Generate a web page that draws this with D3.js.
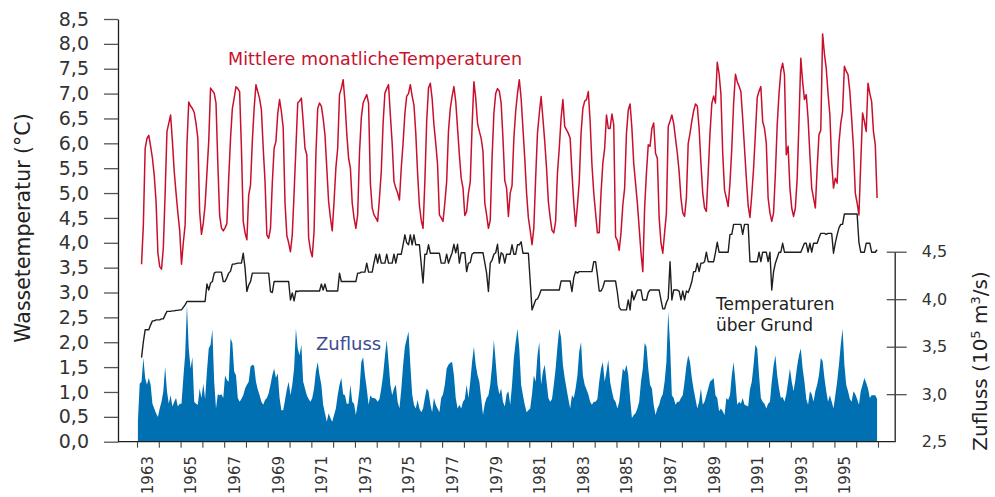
<!DOCTYPE html>
<html><head><meta charset="utf-8">
<script src="https://cdn.jsdelivr.net/npm/d3@7"></script>
<style>
body{margin:0;background:#fff}
svg{display:block}
text{font-family:"DejaVu Sans",Arial,sans-serif}
</style>
</head><body>
<svg id="chart" width="995" height="497"></svg>
<script>
// ---------- DATA ----------
const years = d3.range(1963, 1997);           // 1963 .. 1996
const yearLabels = [1963,1965,1967,1969,1971,1973,1975,1977,1979,1981,1983,1985,1987,1989,1991,1993,1995];
const yearTicks = d3.range(1963, 1998);
const leftTicks = [0,0.5,1,1.5,2,2.5,3,3.5,4,4.5,5,5.5,6,6.5,7,7.5,8,8.5];
const rightTicks = [2.5,3,3.5,4,4.5];

// Mittlere monatliche Temperaturen (°C), Jan..Dec per year
const tempMonthly = [
 [null,null,3.57,4.36,5.9,6.1,6.16,5.94,5.7,5.35,4.83,3.8],
 [3.52,3.47,3.9,5.0,6.24,6.4,6.57,6.04,5.43,5.0,4.6,4.25],
 [3.57,4.0,4.36,5.97,6.83,6.75,6.7,6.62,6.4,6.1,4.63,4.17],
 [4.4,4.76,5.4,6.04,7.11,7.06,7.01,6.81,5.6,4.55,4.3,4.24],
 [4.3,4.39,5.3,6.1,6.7,6.91,7.14,7.1,7.04,5.9,4.43,4.2],
 [4.06,4.96,5.16,6.04,6.7,7.18,7.04,6.9,6.67,5.9,5.23,4.16],
 [4.09,4.29,5.2,5.9,6.04,6.6,6.88,6.64,6.31,4.8,4.15,4.0],
 [3.82,4.16,5.0,5.9,6.81,6.85,6.91,6.44,5.9,5.77,4.1,3.85],
 [3.72,4.23,5.77,6.7,6.81,6.75,6.5,6.17,5.5,4.83,4.5,4.24],
 [4.83,5.5,5.9,6.98,7.1,7.28,6.84,6.2,5.7,5.5,4.8,4.5],
 [4.29,4.56,5.8,6.51,6.81,6.9,6.98,6.81,5.2,4.7,4.56,4.5],
 [4.43,4.9,5.43,6.4,7.01,7.1,7.18,6.57,6.0,5.23,5.1,5.0],
 [4.86,5.5,6.0,6.6,6.95,7.0,7.18,6.95,6.77,6.2,5.4,4.75],
 [4.45,4.29,5.23,6.44,7.11,7.21,6.9,6.37,6.0,5.57,4.56,4.5],
 [4.43,4.8,5.23,6.24,6.7,6.95,7.14,6.84,6.3,5.77,5.3,5.1],
 [4.55,4.63,5.0,5.23,6.34,7.24,6.91,6.4,6.24,6.1,5.84,4.8],
 [4.56,4.29,4.45,5.7,6.6,7.0,7.1,7.05,6.81,6.1,5.25,5.1],
 [4.53,5.0,5.15,6.1,6.64,7.0,7.28,6.9,6.3,5.7,5.0,4.5],
 [4.25,3.96,4.3,5.3,6.2,6.6,6.94,6.5,6.04,5.5,4.83,4.5],
 [4.25,4.2,4.43,5.4,5.9,6.5,6.88,6.34,6.27,6.2,6.1,5.4],
 [4.8,4.33,4.75,5.23,6.2,6.7,6.85,6.88,7.04,6.44,5.57,5.0],
 [4.6,4.2,4.2,5.0,5.6,5.9,6.57,6.3,6.3,6.59,6.37,4.12],
 [4.05,3.85,4.2,4.76,5.1,6.2,6.67,6.79,6.3,5.6,5.2,4.8],
 [4.3,3.8,3.42,4.7,5.4,5.97,5.94,6.3,6.41,5.8,5.7,4.5],
 [4.0,3.79,4.2,4.6,6.34,6.45,6.57,6.4,6.1,5.8,5.43,4.9],
 [4.6,4.53,4.9,6.0,6.2,6.45,6.65,6.79,6.75,6.3,5.6,5.0],
 [4.7,4.63,5.4,6.2,6.8,6.95,6.81,7.63,7.4,7.0,5.8,5.06],
 [4.9,4.73,5.2,5.9,6.8,7.39,7.24,7.15,7.04,6.5,5.9,5.3],
 [4.75,4.51,4.96,5.5,6.2,6.92,7.05,7.14,6.44,6.3,6.0,4.9],
 [4.6,4.43,4.6,5.4,6.37,7.0,7.45,7.61,7.38,5.77,5.94,5.1],
 [4.7,4.53,4.7,5.3,6.44,7.71,7.24,6.88,6.98,6.5,5.77,5.1],
 [4.9,4.7,5.5,6.17,6.27,8.2,7.8,7.51,7.0,6.57,5.6,5.1],
 [5.3,5.2,6.0,6.4,6.64,7.55,7.45,7.38,7.04,6.5,5.9,5.0],
 [4.8,4.56,5.6,6.61,6.44,6.24,7.21,7.0,6.84,6.24,5.97,4.9]
];

// Temperaturen über Grund (°C)
const groundTemp = [
 [null,null,1.69,2.01,2.25,2.25,2.25,2.35,2.43,2.43,2.45,2.45],
 [2.45,2.47,2.47,2.55,2.62,2.62,2.62,2.63,2.63,2.64,2.64,2.65],
 [2.65,2.7,2.75,2.82,2.82,2.82,2.82,2.82,2.82,2.82,2.82,2.82],
 [2.82,2.82,3.17,3.05,3.19,3.22,3.39,3.41,3.41,3.41,3.41,3.22],
 [3.22,3.3,3.39,3.43,3.57,3.57,3.58,3.59,3.59,3.59,3.79,3.49],
 [3.02,3.15,3.22,3.39,3.39,3.39,3.39,3.39,3.39,3.39,3.39,3.39],
 [3.39,3.02,3.0,3.22,3.22,3.22,3.22,3.22,3.22,3.22,3.22,3.22],
 [2.85,2.99,2.83,3.03,3.02,3.03,3.03,3.03,3.03,3.03,3.03,3.03],
 [3.03,3.03,3.03,3.03,3.03,3.17,3.05,3.17,3.03,3.03,3.03,3.03],
 [3.03,3.03,3.03,3.39,3.22,3.22,3.22,3.22,3.22,3.22,3.22,3.22],
 [3.22,3.39,3.39,3.41,3.41,3.41,3.59,3.41,3.41,3.41,3.6,3.77],
 [3.59,3.77,3.59,3.59,3.59,3.77,3.59,3.59,3.59,3.77,3.59,3.77],
 [3.77,3.77,3.96,4.16,4.0,3.96,4.16,3.96,4.16,3.96,3.96,3.96],
 [3.57,3.19,3.77,3.77,3.96,3.79,3.79,3.79,3.79,3.79,3.79,3.59],
 [3.59,3.59,3.77,3.59,3.7,3.8,3.97,3.8,3.97,3.59,3.8,3.8],
 [3.8,3.42,3.59,3.6,3.77,3.8,3.8,3.8,3.8,3.8,3.8,3.6],
 [3.39,3.02,3.59,3.65,3.77,3.8,3.97,3.59,3.8,3.77,3.59,3.77],
 [3.77,3.77,3.96,3.77,3.77,3.96,3.96,4.02,3.79,3.79,3.79,3.79],
 [3.22,2.65,2.75,2.85,2.87,2.95,3.05,3.05,3.05,3.05,3.05,3.05],
 [3.05,3.05,3.05,3.05,3.05,3.23,3.23,3.23,3.23,3.23,3.23,3.02],
 [3.3,3.42,3.39,3.42,3.42,3.42,3.42,3.42,3.42,3.42,3.42,3.62],
 [3.62,3.35,3.03,3.03,3.1,3.23,3.23,3.23,3.23,3.23,3.23,3.23],
 [3.0,2.7,2.65,2.65,2.65,2.65,2.85,2.65,3.02,2.85,2.95,3.05],
 [3.05,3.05,2.85,2.85,2.85,3.0,3.05,3.05,3.05,3.05,3.05,3.05],
 [2.85,2.67,2.67,2.8,2.88,3.62,2.85,3.05,3.05,3.05,3.03,2.85],
 [3.03,2.85,3.03,3.0,3.1,3.22,3.42,3.42,3.59,3.42,3.59,3.59],
 [3.62,3.81,3.62,3.62,3.62,3.62,3.8,4.01,3.81,3.81,3.81,3.81],
 [3.81,3.81,4.17,4.17,4.37,4.37,4.37,4.37,4.37,4.17,4.37,4.37],
 [4.37,3.62,3.62,3.62,3.62,3.62,3.81,3.62,3.81,3.81,3.81,3.62],
 [3.81,3.05,3.42,3.59,3.7,3.81,3.81,3.99,3.81,3.81,3.81,3.81],
 [3.81,3.81,3.81,3.81,3.81,3.81,3.9,3.99,3.99,3.81,3.99,3.81],
 [3.99,3.99,3.99,4.1,4.19,4.19,4.19,4.17,4.19,4.19,4.19,3.79],
 [4.0,4.16,4.3,4.37,4.37,4.58,4.58,4.58,4.58,4.58,4.58,4.58],
 [4.58,4.01,3.81,3.81,3.81,3.99,3.99,3.99,3.81,3.81,3.81,3.86]
];

// Zufluss (10^5 m³/s)
const inflow = [
 [2.72,3.11,3.13,3.38,3.17,3.1,3.17,3.1,2.9,2.85,2.8,2.76],
 [2.85,2.92,3.03,3.29,3.03,2.9,2.99,2.87,2.92,2.96,2.87,2.9],
 [2.9,3.17,3.41,3.94,3.48,3.27,3.39,2.92,2.9,2.89,3.06,2.96],
 [3.11,2.95,3.24,3.48,3.52,3.68,3.13,2.85,3.0,2.99,3.0,2.96],
 [3.2,3.15,3.13,3.59,3.54,3.24,3.2,2.96,2.92,2.95,2.99,3.06],
 [3.1,3.13,3.29,3.31,3.3,3.13,3.05,2.99,2.92,2.89,2.94,2.96],
 [3.01,3.1,3.2,3.27,3.17,3.22,2.96,2.83,2.83,2.94,3.05,3.13],
 [2.99,3.1,3.27,3.69,3.48,3.41,3.52,3.13,3.06,2.99,2.95,2.92],
 [2.96,3.06,3.24,3.34,3.2,3.1,2.89,2.8,2.71,2.8,2.75,2.71],
 [2.78,2.85,2.99,3.1,3.17,3.0,2.99,2.9,2.9,3.1,2.92,2.9],
 [2.78,2.9,3.05,3.34,3.39,3.2,3.06,2.89,2.99,2.96,2.96,2.95],
 [2.92,2.95,3.06,3.2,3.4,3.57,3.34,3.1,2.99,3.06,3.1,2.92],
 [2.85,3.05,3.3,3.5,3.58,3.66,3.31,3.0,2.89,2.85,2.94,2.85],
 [2.81,2.85,2.96,3.06,3.03,2.9,2.81,2.96,2.89,2.85,2.81,2.96],
 [3.0,3.1,3.27,3.31,3.33,3.34,3.2,2.96,2.85,2.89,2.85,2.92],
 [2.95,3.1,2.96,3.13,3.34,3.5,3.31,3.2,3.13,2.96,2.78,2.9],
 [2.96,2.99,3.1,3.3,3.57,3.34,3.1,3.0,3.06,2.92,2.87,3.0],
 [3.03,2.89,3.1,3.38,3.55,3.69,3.48,3.1,2.99,2.89,2.81,2.83],
 [2.85,3.0,3.2,3.13,3.41,3.55,3.1,3.24,3.31,3.13,2.96,2.92],
 [2.95,3.1,3.27,3.5,3.69,3.6,3.31,3.17,3.06,2.95,2.85,2.99],
 [2.96,3.06,3.2,3.45,3.55,3.2,3.1,3.05,3.0,2.92,2.89,2.92],
 [2.92,2.95,3.13,3.27,3.34,3.13,3.24,3.36,3.13,3.03,2.95,2.92],
 [2.85,2.92,3.1,3.27,3.24,3.31,3.2,2.96,2.75,2.78,2.8,2.85],
 [2.92,3.13,3.27,3.54,3.5,3.27,3.1,3.06,2.89,2.78,2.85,2.89],
 [2.96,3.0,3.13,3.34,3.87,3.52,2.99,2.96,2.89,2.92,2.92,2.96],
 [2.99,3.13,3.3,3.41,3.34,3.17,3.05,2.95,2.85,2.92,3.06,2.89],
 [2.92,2.99,3.06,3.13,3.15,3.17,2.99,2.96,2.82,2.85,2.82,2.78],
 [2.96,2.94,2.99,3.2,3.34,3.13,2.89,2.92,2.9,2.96,2.89,2.88],
 [2.87,3.05,3.13,3.31,3.52,3.48,3.2,2.96,2.92,2.9,2.85,2.9],
 [2.92,3.13,3.3,3.41,3.2,3.06,2.96,2.97,2.92,3.0,3.13,3.27],
 [3.13,3.03,3.15,3.3,3.41,3.48,3.27,3.13,2.95,2.89,3.03,3.0],
 [2.92,3.03,3.1,3.2,3.38,3.35,3.17,3.03,2.92,2.99,2.92,2.85],
 [2.99,3.13,3.31,3.52,3.69,3.31,3.1,3.03,2.95,2.92,3.03,3.0],
 [2.95,2.89,3.03,3.1,3.17,3.12,3.06,2.96,2.99,2.99,2.99,2.95]
];

// ---------- BUILD ----------
const flat = arr => years.flatMap((y, i) => arr[i].map((v, m) => ({t: y + (m + 0.5) / 12, v})))
                          .filter(d => d.v != null);
const redData = flat(tempMonthly), blackData = flat(groundTemp), blueData = flat(inflow);

const svg = d3.select("#chart");
const x = d3.scaleLinear().domain([1963, 1997]).range([137, 878]);
const yL = d3.scaleLinear().domain([0, 8.5]).range([441.7, 19]);
const yR = d3.scaleLinear().domain([2.5, 4.5]).range([441.7, 251.7]);

const RED = "#c8102e", BLUE = "#0070b2", DARK = "#1e1e1e", LBL = "#333";

// inflow area
svg.append("path").datum(blueData)
  .attr("fill", BLUE)
  .attr("d", d3.area().x(d => x(d.t)).y0(yR(2.5)).y1(d => yR(d.v)));

// ground temperature line
svg.append("path").datum(blackData)
  .attr("fill", "none").attr("stroke", DARK).attr("stroke-width", 1.4).attr("stroke-linejoin", "round")
  .attr("d", d3.line().x(d => x(d.t)).y(d => yL(d.v)));

// monthly temperature line
svg.append("path").datum(redData)
  .attr("fill", "none").attr("stroke", RED).attr("stroke-width", 1.5).attr("stroke-linejoin", "round")
  .attr("d", d3.line().x(d => x(d.t)).y(d => yL(d.v)));

// left axis
const gL = svg.append("g").attr("transform", "translate(118,0)")
  .call(d3.axisLeft(yL).tickValues(leftTicks).tickSize(14).tickSizeOuter(0).tickPadding(15)
        .tickFormat(d => d.toFixed(1).replace(".", ",")));
gL.select(".domain").attr("stroke", DARK).attr("stroke-width", 1.3);
gL.selectAll(".tick line").attr("stroke", "#555").attr("stroke-width", 1.3);
gL.selectAll(".tick text").attr("fill", LBL).attr("font-size", 19).attr("font-family", "DejaVu Sans");

// bottom axis
svg.append("line").attr("x1", 118).attr("x2", 894.7).attr("y1", 441.7).attr("y2", 441.7)
  .attr("stroke", DARK).attr("stroke-width", 1.3);
const gB = svg.append("g").attr("transform", "translate(0,441.7)")
  .call(d3.axisBottom(x).tickValues(yearTicks).tickSize(6).tickSizeOuter(0).tickFormat(""));
gB.select(".domain").remove();
gB.selectAll(".tick line").attr("stroke", "#444").attr("stroke-width", 1.1);
svg.append("g").selectAll("text").data(yearLabels).join("text")
  .attr("transform", d => `translate(${x(d + 0.5) + 5},456) rotate(-90)`)
  .attr("text-anchor", "end").attr("font-size", 15).attr("fill", LBL).text(d => d);

// right axis
const gR = svg.append("g").attr("transform", "translate(894.7,0)")
  .call(d3.axisRight(yR).tickValues(rightTicks).tickSize(12).tickSizeOuter(0).tickPadding(15)
        .tickFormat(d => d.toFixed(1).replace(".", ",")));
gR.select(".domain").attr("stroke", DARK).attr("stroke-width", 1.3);
gR.selectAll(".tick line").attr("stroke", "#444").attr("stroke-width", 1.2)
  .attr("x1", d => d === 2.5 ? 0 : -8).attr("x2", d => d === 2.5 ? 0 : 12);
gR.selectAll(".tick text").attr("fill", LBL).attr("font-size", 16).attr("font-family", "DejaVu Sans");

// axis titles
svg.append("text").attr("transform", "translate(30,228) rotate(-90)")
  .attr("text-anchor", "middle").attr("font-size", 20.5).attr("fill", "#222")
  .text("Wassetemperatur (°C)");
const rt = svg.append("text").attr("transform", "translate(987,361) rotate(-90)")
  .attr("text-anchor", "middle").attr("font-size", 20).attr("fill", "#222");
rt.append("tspan").text("Zufluss (10");
rt.append("tspan").attr("baseline-shift", "super").attr("font-size", 13).text("5");
rt.append("tspan").text(" m");
rt.append("tspan").attr("baseline-shift", "super").attr("font-size", 13).text("3");
rt.append("tspan").text("/s)");

// series labels
svg.append("text").attr("x", 228).attr("y", 65).attr("font-size", 17.5).attr("fill", RED)
  .attr("textLength", 294).attr("lengthAdjust", "spacing")
  .text("Mittlere monatlicheTemperaturen");
svg.append("text").attr("x", 316).attr("y", 349.5).attr("font-size", 18).attr("fill", "#3c4b92")
  .text("Zufluss");
const tg = svg.append("text").attr("font-size", 17).attr("fill", "#222");
tg.append("tspan").attr("x", 716).attr("y", 310).text("Temperaturen");
tg.append("tspan").attr("x", 716).attr("y", 331).text("über Grund");
</script>
</body></html>
